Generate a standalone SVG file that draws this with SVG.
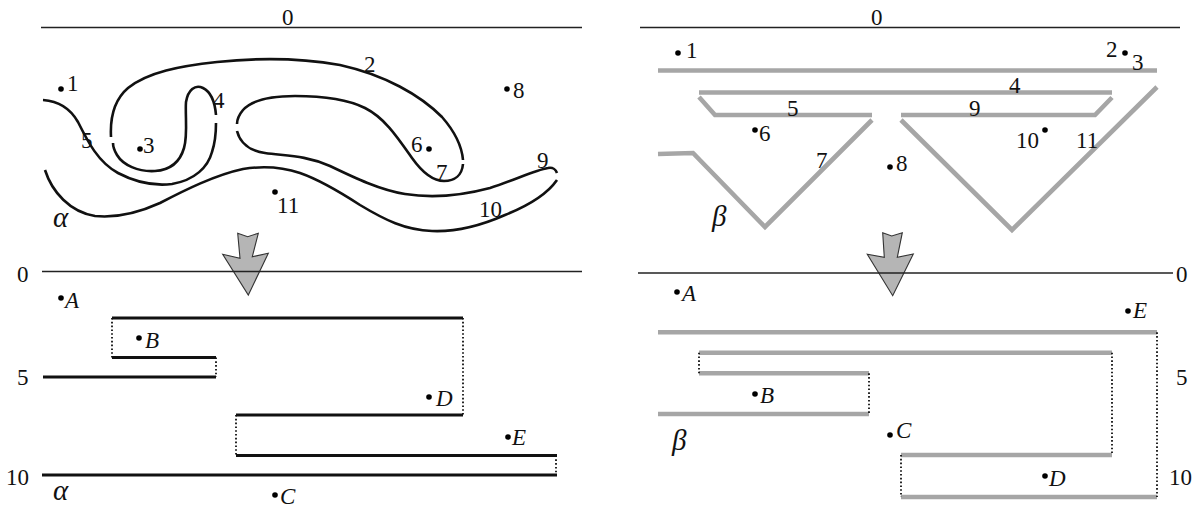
<svg xmlns="http://www.w3.org/2000/svg" width="1198" height="508" viewBox="0 0 1198 508" font-family="'Liberation Serif', 'DejaVu Serif', 'Times New Roman', serif">
<style>
.ax{stroke:#222;stroke-width:1.4;fill:none}
.cv{stroke:#111;stroke-width:2.6;fill:none;stroke-linecap:butt;stroke-linejoin:round}
.bl{stroke:#111;stroke-width:2.8;fill:none}
.gr{stroke:#a6a6a6;stroke-width:4.6;fill:none;stroke-linejoin:miter}
.dt{stroke:#111;stroke-width:1.8;stroke-dasharray:1.6 2.2;fill:none}
.arr{fill:#b5b5b5;stroke:#333;stroke-width:1.1;stroke-linejoin:miter}
text{font-family:'Liberation Serif','DejaVu Serif','Times New Roman',serif;font-size:23px;fill:#111}
.it{font-style:italic}
.gk{font-style:italic;font-size:29px}
</style>
<rect width="1198" height="508" fill="#fff"/>

<g id="alpha-top">
  <line class="ax" x1="41" y1="27.5" x2="582" y2="27.5"/>
  <text x="282" y="25">0</text>
  <path class="cv" d="M43,100 C58,101 70,108 78,122 C88,142 98,162 118,173 C135,182 155,186 172,184 C195,180 208,167 212,152 C216,140 216,130 216,123"/>
  <path class="cv" d="M216,115 C215,103 211,92 203,88 C195,84 188,90 186,102 C185,115 188,135 184,148 C180,162 170,170 155,171 C138,172 123,165 117,155 C114,150 113,147 113,143"/>
  <path class="cv" d="M111,137 C110,118 114,100 128,88 C148,72 180,66 217,62 C255,58 300,58 340,65 C385,75 420,95 442,117 C456,133 462,148 463,160"/>
  <path class="cv" d="M463,164 C462,175 455,181 444,181 C432,181 422,172 412,158 C398,138 385,118 365,108 C345,98 320,96 295,96 C270,96 252,100 243,110 C238,116 237,121 237,124"/>
  <path class="cv" d="M237,131 C240,143 250,151 265,153 C285,156 305,155 330,166 C355,178 380,190 405,194 C430,198 460,196 490,188 C515,180 535,170 548,168 C553,167 556,170 557,173"/>
  <path class="cv" d="M557,180 C548,193 530,205 505,215 C480,226 455,232 432,231 C405,230 385,220 360,205 C340,192 320,180 300,173 C282,167 262,166 243,169 C215,175 185,190 160,203 C138,213 115,218 95,216 C70,212 52,192 45,170"/>
  <g id="alpha-top-labels">
    <circle cx="61" cy="89" r="2.8"/><text x="67" y="91">1</text>
    <text x="81" y="148">5</text>
    <circle cx="140" cy="149" r="2.8"/><text x="143" y="153">3</text>
    <text x="213" y="108">4</text>
    <text x="364" y="72">2</text>
    <circle cx="507" cy="89" r="2.8"/><text x="513" y="98">8</text>
    <text x="411" y="152">6</text><circle cx="429" cy="149" r="2.8"/>
    <text x="436" y="180">7</text>
    <text x="537" y="168">9</text>
    <text x="479" y="217">10</text>
    <circle cx="275" cy="192" r="2.8"/><text x="277" y="213">11</text>
    <text class="gk" x="53" y="227">α</text>
  </g>
</g>

<g id="beta-top">
  <line class="ax" x1="640" y1="27.5" x2="1180" y2="27.5"/>
  <text x="871" y="25">0</text>
  <line class="gr" x1="658" y1="70.5" x2="1157" y2="70.5"/>
  <line class="gr" x1="699" y1="92.5" x2="1112" y2="92.5"/>
  <polyline class="gr" points="699,97 715,115 872,115"/>
  <polyline class="gr" points="901,115 1095,115 1112,97.5"/>
  <polyline class="gr" points="658,154 693,153 765,227 872,120"/>
  <polyline class="gr" points="901,120 1012,230 1157,87"/>
  <g id="beta-top-labels">
    <circle cx="678" cy="53" r="2.8"/><text x="686" y="58">1</text>
    <text x="1106" y="57">2</text><circle cx="1125" cy="53" r="2.8"/><text x="1132" y="70">3</text>
    <text x="1009" y="93">4</text>
    <text x="787" y="116">5</text>
    <text x="969" y="116">9</text>
    <circle cx="755" cy="130" r="2.8"/><text x="759" y="141">6</text>
    <text x="816" y="168">7</text>
    <circle cx="890" cy="167" r="2.8"/><text x="896" y="171">8</text>
    <text x="1016" y="148">10</text><circle cx="1045" cy="130" r="2.8"/>
    <text x="1076" y="148">11</text>
    <text class="gk" x="712" y="226">β</text>
  </g>
</g>

<g id="connectors">
  <polygon id="arrow-left" class="arr" points="237.7,233.3 247.7,236.7 258.3,233.3 252.3,256.7 268.3,253.3 248.3,295 222.7,254.3 240,258.3"/>
  <polygon id="arrow-right" class="arr" points="882.7,232.7 891.7,236 902.3,232.7 897.3,257.3 913.3,254 892.7,295.7 867.3,254.3 884.3,257.3"/>
</g>

<g id="alpha-bottom">
  <line class="ax" x1="42" y1="271.5" x2="582" y2="271.5"/>
  <text x="17" y="282">0</text>
  <text x="17" y="385">5</text>
  <text x="6" y="485">10</text>
  <line class="bl" x1="112" y1="318" x2="463" y2="318"/>
  <line class="bl" x1="112" y1="357.5" x2="216" y2="357.5"/>
  <line class="bl" x1="43" y1="377" x2="216" y2="377"/>
  <line class="bl" x1="236" y1="415" x2="463" y2="415"/>
  <line class="bl" x1="236" y1="455.5" x2="557" y2="455.5"/>
  <line class="bl" x1="42" y1="475" x2="557" y2="475"/>
  <line class="dt" x1="112" y1="318" x2="112" y2="357.5"/>
  <line class="dt" x1="216" y1="357.5" x2="216" y2="377"/>
  <line class="dt" x1="463" y1="318" x2="463" y2="415"/>
  <line class="dt" x1="236" y1="415" x2="236" y2="455.5"/>
  <line class="dt" x1="556" y1="455.5" x2="556" y2="475"/>
  <circle cx="61" cy="298" r="2.8"/><text class="it" x="65" y="308">A</text>
  <circle cx="139" cy="338" r="2.8"/><text class="it" x="145" y="348">B</text>
  <circle cx="275" cy="495" r="2.8"/><text class="it" x="280" y="504">C</text>
  <circle cx="429" cy="397" r="2.8"/><text class="it" x="436" y="406">D</text>
  <circle cx="508" cy="437" r="2.8"/><text class="it" x="512" y="445">E</text>
  <text class="gk" x="53" y="500">α</text>
</g>

<g id="beta-bottom">
  <line class="ax" x1="638" y1="273" x2="1173" y2="273"/>
  <text x="1176" y="282">0</text>
  <text x="1176" y="385">5</text>
  <text x="1169" y="485">10</text>
  <line class="gr" x1="658" y1="332.3" x2="1157" y2="332.3"/>
  <line class="gr" x1="699" y1="352.7" x2="1112" y2="352.7"/>
  <line class="gr" x1="699" y1="373.3" x2="869" y2="373.3"/>
  <line class="gr" x1="658" y1="414" x2="869" y2="414"/>
  <line class="gr" x1="901" y1="455" x2="1112" y2="455"/>
  <line class="gr" x1="901" y1="497" x2="1157" y2="497"/>
  <line class="dt" x1="1157" y1="332.3" x2="1157" y2="497"/>
  <line class="dt" x1="1112" y1="352.7" x2="1112" y2="455"/>
  <line class="dt" x1="699" y1="352.7" x2="699" y2="373.3"/>
  <line class="dt" x1="869" y1="373.3" x2="869" y2="414"/>
  <line class="dt" x1="901" y1="455" x2="901" y2="497"/>
  <circle cx="677" cy="292" r="2.8"/><text class="it" x="682" y="301">A</text>
  <circle cx="755" cy="394" r="2.8"/><text class="it" x="760" y="403">B</text>
  <circle cx="890" cy="435" r="2.8"/><text class="it" x="896" y="438">C</text>
  <circle cx="1045" cy="476" r="2.8"/><text class="it" x="1049" y="486">D</text>
  <circle cx="1128" cy="311" r="2.8"/><text class="it" x="1133" y="318">E</text>
  <text class="gk" x="672" y="450">β</text>
</g>
</svg>
